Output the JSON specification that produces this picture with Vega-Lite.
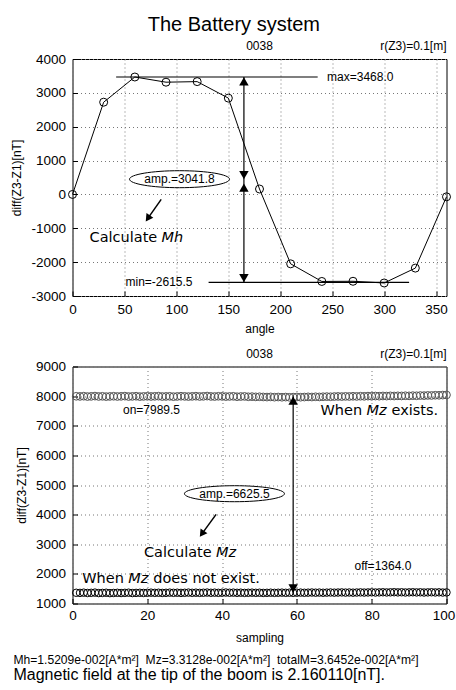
{
  "$schema": "https://vega.github.io/schema/vega-lite/v6.json",
  "padding": {"left": 9.5, "top": 14, "right": 0, "bottom": 2},
  "background": "white",
  "config": {
    "font": "Liberation Sans",
    "view": {"stroke": "black", "strokeWidth": 1},
    "axis": {
      "domain": false,
      "grid": true,
      "gridColor": "#777777",
      "gridDash": [1, 3],
      "gridOpacity": 1,
      "gridWidth": 1,
      "tickColor": "black",
      "tickSize": -5,
      "tickCount": 20,
      "labelPadding": 12,
      "labelFont": "Liberation Sans",
      "labelFontSize": 13.5,
      "labelColor": "black",
      "labelOverlap": false,
      "labelFlush": false,
      "labelExpr": "'' + datum.value",
      "titleFont": "Liberation Sans",
      "titleFontSize": 12,
      "titleFontWeight": "normal",
      "titleColor": "black"
    },
    "title": {"color": "black", "fontWeight": "normal", "font": "Liberation Sans"},
    "text": {"color": "black"}
  },
  "datasets": {
    "rotation": [
      {"angle": 0, "diff": 0},
      {"angle": 30, "diff": 2724},
      {"angle": 60, "diff": 3468},
      {"angle": 90, "diff": 3315},
      {"angle": 120, "diff": 3332},
      {"angle": 150, "diff": 2845},
      {"angle": 180, "diff": 160},
      {"angle": 210, "diff": -2050},
      {"angle": 240, "diff": -2570},
      {"angle": 270, "diff": -2565},
      {"angle": 300, "diff": -2615.5},
      {"angle": 330, "diff": -2176},
      {"angle": 360, "diff": -70}
    ],
    "sampling": [
      {"sample": 1, "on": 7995, "off": 1362}, {"sample": 2, "on": 7990, "off": 1358}, {"sample": 3, "on": 7998, "off": 1366}, {"sample": 4, "on": 7985, "off": 1355}, {"sample": 5, "on": 7992, "off": 1360},
      {"sample": 6, "on": 8001, "off": 1368}, {"sample": 7, "on": 7988, "off": 1352}, {"sample": 8, "on": 7994, "off": 1357}, {"sample": 9, "on": 7983, "off": 1363}, {"sample": 10, "on": 7990, "off": 1350},
      {"sample": 11, "on": 7996, "off": 1356}, {"sample": 12, "on": 7987, "off": 1361}, {"sample": 13, "on": 7993, "off": 1354}, {"sample": 14, "on": 8000, "off": 1359}, {"sample": 15, "on": 7986, "off": 1365},
      {"sample": 16, "on": 7991, "off": 1353}, {"sample": 17, "on": 7997, "off": 1358}, {"sample": 18, "on": 7984, "off": 1362}, {"sample": 19, "on": 7990, "off": 1356}, {"sample": 20, "on": 7995, "off": 1360},
      {"sample": 21, "on": 7988, "off": 1366}, {"sample": 22, "on": 7993, "off": 1359}, {"sample": 23, "on": 7999, "off": 1363}, {"sample": 24, "on": 7986, "off": 1357}, {"sample": 25, "on": 7990, "off": 1361},
      {"sample": 26, "on": 7994, "off": 1367}, {"sample": 27, "on": 7982, "off": 1360}, {"sample": 28, "on": 7989, "off": 1364}, {"sample": 29, "on": 7996, "off": 1358}, {"sample": 30, "on": 7991, "off": 1362},
      {"sample": 31, "on": 7985, "off": 1368}, {"sample": 32, "on": 7992, "off": 1361}, {"sample": 33, "on": 7998, "off": 1365}, {"sample": 34, "on": 7987, "off": 1359}, {"sample": 35, "on": 7993, "off": 1363},
      {"sample": 36, "on": 8002, "off": 1369}, {"sample": 37, "on": 7990, "off": 1362}, {"sample": 38, "on": 7986, "off": 1366}, {"sample": 39, "on": 7995, "off": 1360}, {"sample": 40, "on": 7991, "off": 1364},
      {"sample": 41, "on": 7984, "off": 1370}, {"sample": 42, "on": 7989, "off": 1363}, {"sample": 43, "on": 7994, "off": 1367}, {"sample": 44, "on": 7980, "off": 1361}, {"sample": 45, "on": 7987, "off": 1365},
      {"sample": 46, "on": 7991, "off": 1358}, {"sample": 47, "on": 7978, "off": 1362}, {"sample": 48, "on": 7983, "off": 1366}, {"sample": 49, "on": 7975, "off": 1360}, {"sample": 50, "on": 7979, "off": 1364},
      {"sample": 51, "on": 7972, "off": 1357}, {"sample": 52, "on": 7968, "off": 1361}, {"sample": 53, "on": 7974, "off": 1365}, {"sample": 54, "on": 7965, "off": 1359}, {"sample": 55, "on": 7970, "off": 1363},
      {"sample": 56, "on": 7962, "off": 1367}, {"sample": 57, "on": 7968, "off": 1361}, {"sample": 58, "on": 7960, "off": 1365}, {"sample": 59, "on": 7966, "off": 1360}, {"sample": 60, "on": 7971, "off": 1364},
      {"sample": 61, "on": 7964, "off": 1368}, {"sample": 62, "on": 7969, "off": 1362}, {"sample": 63, "on": 7975, "off": 1366}, {"sample": 64, "on": 7970, "off": 1371}, {"sample": 65, "on": 7978, "off": 1365},
      {"sample": 66, "on": 7973, "off": 1369}, {"sample": 67, "on": 7980, "off": 1363}, {"sample": 68, "on": 7984, "off": 1367}, {"sample": 69, "on": 7979, "off": 1372}, {"sample": 70, "on": 7986, "off": 1366},
      {"sample": 71, "on": 7990, "off": 1370}, {"sample": 72, "on": 7985, "off": 1374}, {"sample": 73, "on": 7992, "off": 1368}, {"sample": 74, "on": 7988, "off": 1372}, {"sample": 75, "on": 7995, "off": 1366},
      {"sample": 76, "on": 7990, "off": 1370}, {"sample": 77, "on": 7997, "off": 1375}, {"sample": 78, "on": 7993, "off": 1369}, {"sample": 79, "on": 8000, "off": 1373}, {"sample": 80, "on": 7996, "off": 1377},
      {"sample": 81, "on": 8003, "off": 1371}, {"sample": 82, "on": 7998, "off": 1375}, {"sample": 83, "on": 8005, "off": 1379}, {"sample": 84, "on": 8001, "off": 1373}, {"sample": 85, "on": 8008, "off": 1377},
      {"sample": 86, "on": 8004, "off": 1381}, {"sample": 87, "on": 8010, "off": 1375}, {"sample": 88, "on": 8006, "off": 1379}, {"sample": 89, "on": 8013, "off": 1372}, {"sample": 90, "on": 8009, "off": 1376},
      {"sample": 91, "on": 8016, "off": 1380}, {"sample": 92, "on": 8012, "off": 1374}, {"sample": 93, "on": 8020, "off": 1378}, {"sample": 94, "on": 8017, "off": 1371}, {"sample": 95, "on": 8024, "off": 1375},
      {"sample": 96, "on": 8022, "off": 1379}, {"sample": 97, "on": 8030, "off": 1373}, {"sample": 98, "on": 8028, "off": 1377}, {"sample": 99, "on": 8035, "off": 1370}, {"sample": 100, "on": 8040, "off": 1374}
    ]
  },
  "title": {
    "text": "Mh=1.5209e-002[A*m²]\u00a0 Mz=3.3128e-002[A*m²]\u00a0 totalM=3.6452e-002[A*m²]",
    "subtitle": "Magnetic field at the tip of the boom is 2.160110[nT].",
    "orient": "bottom",
    "anchor": "start",
    "frame": "bounds",
    "fontSize": 12.1,
    "subtitleFontSize": 16,
    "subtitleColor": "black",
    "subtitleFont": "Liberation Sans",
    "subtitlePadding": 1,
    "offset": 10,
    "dx": 3
  },
  "vconcat": [
    {
      "title": {"text": "The Battery system", "fontSize": 20, "anchor": "middle", "frame": "bounds", "offset": 5, "dx": 1},
      "spacing": 11.5,
      "vconcat": [
        {
          "width": 374,
          "height": 237,
          "layer": [
            {
              "data": {"name": "rotation"},
              "mark": {"type": "line", "color": "black", "strokeWidth": 1},
              "encoding": {
                "x": {"field": "angle", "type": "quantitative", "scale": {"domain": [0, 360], "nice": false}, "axis": {"values": [0, 50, 100, 150, 200, 250, 300, 350], "title": "angle", "titlePadding": 8, "labelPadding": 11, "labelOverlap": false, "tickCount": 20}},
                "y": {"field": "diff", "type": "quantitative", "scale": {"domain": [-3000, 4000], "nice": false}, "axis": {"values": [-3000, -2000, -1000, 0, 1000, 2000, 3000, 4000], "title": "diff(Z3-Z1)[nT]", "titlePadding": 7, "labelOverlap": false, "tickCount": 20}}
              }
            },
            {
              "data": {"name": "rotation"},
              "mark": {"type": "point", "shape": "circle", "filled": false, "color": "black", "size": 64, "strokeWidth": 1, "opacity": 1},
              "encoding": {
                "x": {"field": "angle", "type": "quantitative"},
                "y": {"field": "diff", "type": "quantitative"}
              }
            },
            {
              "data": {"values": [{}]},
              "mark": {"type": "rule", "color": "black", "strokeWidth": 1.2},
              "encoding": {"x": {"datum": 42, "type": "quantitative"}, "x2": {"datum": 236}, "y": {"datum": 3468, "type": "quantitative"}}
            },
            {
              "data": {"values": [{}]},
              "mark": {"type": "text", "text": "max=3468.0", "align": "left", "baseline": "middle", "fontSize": 12, "font": "Liberation Sans"},
              "encoding": {"x": {"datum": 245, "type": "quantitative"}, "y": {"datum": 3468, "type": "quantitative"}}
            },
            {
              "data": {"values": [{}]},
              "mark": {"type": "rule", "color": "black", "strokeWidth": 1.2},
              "encoding": {"x": {"datum": 131, "type": "quantitative"}, "x2": {"datum": 324}, "y": {"datum": -2600, "type": "quantitative"}}
            },
            {
              "data": {"values": [{}]},
              "mark": {"type": "text", "text": "min=-2615.5", "align": "left", "baseline": "middle", "fontSize": 12, "font": "Liberation Sans"},
              "encoding": {"x": {"datum": 51, "type": "quantitative"}, "y": {"datum": -2600, "type": "quantitative"}}
            },
            {
              "data": {"values": [{}]},
              "mark": {"type": "rule", "color": "black", "strokeWidth": 1.2},
              "encoding": {"x": {"datum": 165, "type": "quantitative"}, "y": {"datum": 3468, "type": "quantitative"}, "y2": {"datum": -2600}}
            },
            {
              "data": {"values": [{}]},
              "mark": {"type": "point", "shape": "triangle-up", "filled": true, "color": "black", "size": 90, "opacity": 1},
              "encoding": {"x": {"datum": 165, "type": "quantitative"}, "y": {"datum": 3340, "type": "quantitative"}}
            },
            {
              "data": {"values": [{}]},
              "mark": {"type": "point", "shape": "triangle-down", "filled": true, "color": "black", "size": 90, "opacity": 1},
              "encoding": {"x": {"datum": 165, "type": "quantitative"}, "y": {"datum": 570, "type": "quantitative"}}
            },
            {
              "data": {"values": [{}]},
              "mark": {"type": "point", "shape": "triangle-up", "filled": true, "color": "black", "size": 90, "opacity": 1},
              "encoding": {"x": {"datum": 165, "type": "quantitative"}, "y": {"datum": 200, "type": "quantitative"}}
            },
            {
              "data": {"values": [{}]},
              "mark": {"type": "point", "shape": "triangle-down", "filled": true, "color": "black", "size": 90, "opacity": 1},
              "encoding": {"x": {"datum": 165, "type": "quantitative"}, "y": {"datum": -2470, "type": "quantitative"}}
            },
            {
              "data": {"values": [{}]},
              "mark": {"type": "point", "shape": "M -1 0 A 1 0.17 0 1 1 1 0 A 1 0.17 0 1 1 -1 0 Z", "filled": true, "fill": "white", "stroke": "black", "strokeWidth": 1, "size": 10000, "opacity": 1},
              "encoding": {"x": {"datum": 103, "type": "quantitative"}, "y": {"datum": 450, "type": "quantitative"}}
            },
            {
              "data": {"values": [{}]},
              "mark": {"type": "text", "text": "amp.=3041.8", "align": "center", "baseline": "middle", "fontSize": 12, "font": "Liberation Sans"},
              "encoding": {"x": {"datum": 103, "type": "quantitative"}, "y": {"datum": 450, "type": "quantitative"}}
            },
            {
              "data": {"values": [{}]},
              "mark": {"type": "rule", "color": "black", "strokeWidth": 1.5},
              "encoding": {"x": {"datum": 85.4, "type": "quantitative"}, "x2": {"datum": 72.5}, "y": {"datum": -147, "type": "quantitative"}, "y2": {"datum": -709}}
            },
            {
              "data": {"values": [{}]},
              "mark": {"type": "point", "shape": "triangle-down", "filled": true, "color": "black", "size": 70, "angle": 35, "opacity": 1},
              "encoding": {"x": {"datum": 72.5, "type": "quantitative"}, "y": {"datum": -709, "type": "quantitative"}}
            },
            {
              "data": {"values": [{}]},
              "mark": {"type": "text", "text": "Calculate", "align": "left", "baseline": "middle", "fontSize": 14.5, "font": "DejaVu Sans"},
              "encoding": {"x": {"datum": 16.4, "type": "quantitative"}, "y": {"datum": -1276, "type": "quantitative"}}
            },
            {
              "data": {"values": [{}]},
              "mark": {"type": "text", "text": "Mh", "align": "left", "baseline": "middle", "fontSize": 14.5, "font": "DejaVu Sans", "fontStyle": "italic", "dx": 72},
              "encoding": {"x": {"datum": 16.4, "type": "quantitative"}, "y": {"datum": -1276, "type": "quantitative"}}
            },
            {
              "data": {"values": [{}]},
              "mark": {"type": "text", "text": "0038", "align": "center", "baseline": "middle", "fontSize": 12, "font": "Liberation Sans", "dy": -13},
              "encoding": {"x": {"datum": 180, "type": "quantitative"}, "y": {"datum": 4000, "type": "quantitative"}}
            },
            {
              "data": {"values": [{}]},
              "mark": {"type": "text", "text": "r(Z3)=0.1[m]", "align": "right", "baseline": "middle", "fontSize": 12, "font": "Liberation Sans", "dy": -13},
              "encoding": {"x": {"datum": 360, "type": "quantitative"}, "y": {"datum": 4000, "type": "quantitative"}}
            }
          ]
        },
        {
          "width": 374,
          "height": 237,
          "layer": [
            {
              "data": {"name": "sampling"},
              "mark": {"type": "point", "shape": "circle", "filled": false, "color": "#555555", "size": 60, "strokeWidth": 1, "opacity": 1},
              "encoding": {
                "x": {"field": "sample", "type": "quantitative", "scale": {"domain": [0, 100], "nice": false}, "axis": {"values": [0, 20, 40, 60, 80, 100], "title": "sampling", "titlePadding": 10, "labelPadding": 10, "labelOverlap": false, "tickCount": 20, "labelOffset": {"condition": {"test": "datum.value == 100", "value": -3}, "value": 0}}},
                "y": {"field": "on", "type": "quantitative", "scale": {"domain": [1000, 9000], "nice": false}, "axis": {"values": [1000, 2000, 3000, 4000, 5000, 6000, 7000, 8000, 9000], "title": "diff(Z3-Z1)[nT]", "titlePadding": 7, "labelOverlap": false, "tickCount": 20}}
              }
            },
            {
              "data": {"name": "sampling"},
              "mark": {"type": "point", "shape": "circle", "filled": false, "color": "black", "size": 56, "strokeWidth": 1, "opacity": 1},
              "encoding": {
                "x": {"field": "sample", "type": "quantitative"},
                "y": {"field": "off", "type": "quantitative"}
              }
            },
            {
              "data": {"values": [{}]},
              "mark": {"type": "rule", "color": "black", "strokeWidth": 1.2},
              "encoding": {"x": {"datum": 59, "type": "quantitative"}, "y": {"datum": 7989.5, "type": "quantitative"}, "y2": {"datum": 1364}}
            },
            {
              "data": {"values": [{}]},
              "mark": {"type": "point", "shape": "triangle-up", "filled": true, "color": "black", "size": 90, "opacity": 1},
              "encoding": {"x": {"datum": 59, "type": "quantitative"}, "y": {"datum": 7845, "type": "quantitative"}}
            },
            {
              "data": {"values": [{}]},
              "mark": {"type": "point", "shape": "triangle-down", "filled": true, "color": "black", "size": 90, "opacity": 1},
              "encoding": {"x": {"datum": 59, "type": "quantitative"}, "y": {"datum": 1509, "type": "quantitative"}}
            },
            {
              "data": {"values": [{}]},
              "mark": {"type": "point", "shape": "M -1 0 A 1 0.16 0 1 1 1 0 A 1 0.16 0 1 1 -1 0 Z", "filled": true, "fill": "white", "stroke": "black", "strokeWidth": 1, "size": 10000, "opacity": 1},
              "encoding": {"x": {"datum": 43.3, "type": "quantitative"}, "y": {"datum": 4706, "type": "quantitative"}}
            },
            {
              "data": {"values": [{}]},
              "mark": {"type": "text", "text": "amp.=6625.5", "align": "center", "baseline": "middle", "fontSize": 12, "font": "Liberation Sans"},
              "encoding": {"x": {"datum": 43.3, "type": "quantitative"}, "y": {"datum": 4706, "type": "quantitative"}}
            },
            {
              "data": {"values": [{}]},
              "mark": {"type": "rule", "color": "black", "strokeWidth": 1.5},
              "encoding": {"x": {"datum": 38.4, "type": "quantitative"}, "x2": {"datum": 34.6}, "y": {"datum": 4007, "type": "quantitative"}, "y2": {"datum": 3351}}
            },
            {
              "data": {"values": [{}]},
              "mark": {"type": "point", "shape": "triangle-down", "filled": true, "color": "black", "size": 70, "angle": 35, "opacity": 1},
              "encoding": {"x": {"datum": 34.6, "type": "quantitative"}, "y": {"datum": 3351, "type": "quantitative"}}
            },
            {
              "data": {"values": [{}]},
              "mark": {"type": "text", "text": "Calculate", "align": "left", "baseline": "middle", "fontSize": 14.5, "font": "DejaVu Sans"},
              "encoding": {"x": {"datum": 19.1, "type": "quantitative"}, "y": {"datum": 2713, "type": "quantitative"}}
            },
            {
              "data": {"values": [{}]},
              "mark": {"type": "text", "text": "Mz", "align": "left", "baseline": "middle", "fontSize": 14.5, "font": "DejaVu Sans", "fontStyle": "italic", "dx": 72},
              "encoding": {"x": {"datum": 19.1, "type": "quantitative"}, "y": {"datum": 2713, "type": "quantitative"}}
            },
            {
              "data": {"values": [{}]},
              "mark": {"type": "text", "text": "When", "align": "left", "baseline": "middle", "fontSize": 14.5, "font": "DejaVu Sans"},
              "encoding": {"x": {"datum": 66.3, "type": "quantitative"}, "y": {"datum": 7497, "type": "quantitative"}}
            },
            {
              "data": {"values": [{}]},
              "mark": {"type": "text", "text": "Mz", "align": "left", "baseline": "middle", "fontSize": 14.5, "font": "DejaVu Sans", "fontStyle": "italic", "dx": 46},
              "encoding": {"x": {"datum": 66.3, "type": "quantitative"}, "y": {"datum": 7497, "type": "quantitative"}}
            },
            {
              "data": {"values": [{}]},
              "mark": {"type": "text", "text": "exists.", "align": "left", "baseline": "middle", "fontSize": 14.5, "font": "DejaVu Sans", "dx": 71},
              "encoding": {"x": {"datum": 66.3, "type": "quantitative"}, "y": {"datum": 7497, "type": "quantitative"}}
            },
            {
              "data": {"values": [{}]},
              "mark": {"type": "text", "text": "When", "align": "left", "baseline": "middle", "fontSize": 14.5, "font": "DejaVu Sans"},
              "encoding": {"x": {"datum": 2.6, "type": "quantitative"}, "y": {"datum": 1834, "type": "quantitative"}}
            },
            {
              "data": {"values": [{}]},
              "mark": {"type": "text", "text": "Mz", "align": "left", "baseline": "middle", "fontSize": 14.5, "font": "DejaVu Sans", "fontStyle": "italic", "dx": 46},
              "encoding": {"x": {"datum": 2.6, "type": "quantitative"}, "y": {"datum": 1834, "type": "quantitative"}}
            },
            {
              "data": {"values": [{}]},
              "mark": {"type": "text", "text": "does not exist.", "align": "left", "baseline": "middle", "fontSize": 14.5, "font": "DejaVu Sans", "dx": 71},
              "encoding": {"x": {"datum": 2.6, "type": "quantitative"}, "y": {"datum": 1834, "type": "quantitative"}}
            },
            {
              "data": {"values": [{}]},
              "mark": {"type": "text", "text": "on=7989.5", "align": "left", "baseline": "middle", "fontSize": 12, "font": "Liberation Sans"},
              "encoding": {"x": {"datum": 13.5, "type": "quantitative"}, "y": {"datum": 7520, "type": "quantitative"}}
            },
            {
              "data": {"values": [{}]},
              "mark": {"type": "text", "text": "off=1364.0", "align": "left", "baseline": "middle", "fontSize": 12, "font": "Liberation Sans"},
              "encoding": {"x": {"datum": 75.4, "type": "quantitative"}, "y": {"datum": 2267, "type": "quantitative"}}
            },
            {
              "data": {"values": [{}]},
              "mark": {"type": "text", "text": "0038", "align": "center", "baseline": "middle", "fontSize": 12, "font": "Liberation Sans", "dy": -13},
              "encoding": {"x": {"datum": 50, "type": "quantitative"}, "y": {"datum": 9000, "type": "quantitative"}}
            },
            {
              "data": {"values": [{}]},
              "mark": {"type": "text", "text": "r(Z3)=0.1[m]", "align": "right", "baseline": "middle", "fontSize": 12, "font": "Liberation Sans", "dy": -13},
              "encoding": {"x": {"datum": 100, "type": "quantitative"}, "y": {"datum": 9000, "type": "quantitative"}}
            }
          ]
        }
      ]
    }
  ]
}
